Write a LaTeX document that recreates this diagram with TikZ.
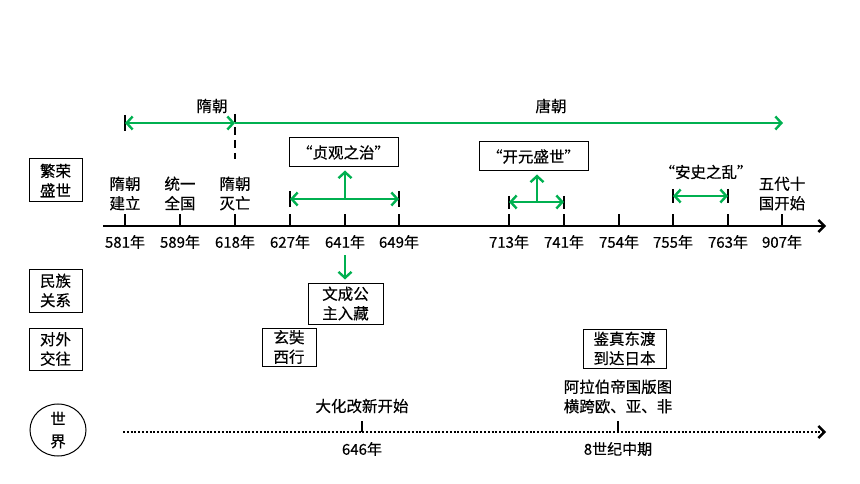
\documentclass[tikz,border=0pt]{standalone}
\usepackage{fontspec}
\setmainfont{Noto Sans CJK SC}[FakeBold=0.4]
\usetikzlibrary{arrows.meta,shapes.geometric}
\definecolor{grn}{HTML}{00B050}
\begin{document}
\begin{tikzpicture}[x=1pt,y=-1pt,
  font=\fontsize{15.5}{19.5}\selectfont,
  lbl/.style={align=center, inner sep=0pt},
  yr/.style={inner sep=0pt, font=\fontsize{15}{17}\selectfont},
  box/.style={draw, line width=1pt, align=center, inner sep=0pt},
  axisline/.style={line width=2.4pt, -{Straight Barb[length=6pt,width=12pt,line width=2.4pt]}},
  tickline/.style={line width=2.4pt},
  grnarr/.style={grn, line width=2.4pt, arrows={-Straight Barb[length=6pt,width=13pt]}},
  grnboth/.style={grn, line width=2.4pt, arrows={Straight Barb[length=6pt,width=13pt]-Straight Barb[length=6pt,width=13pt]}},
  barline/.style={line width=2.4pt},
  dotline/.style={line width=2.6pt, dash pattern=on 2pt off 1.8pt, -{Straight Barb[length=6pt,width=12pt,line width=2.4pt,sep=0pt]}}
]
\useasboundingbox (0,0) rectangle (860,484);

% ---- main axis
\coordinate (ax0) at (103,226);
\coordinate (ax1) at (826,226);
\draw[axisline] (ax0) -- (ax1);
\foreach \yy/\xx in {581/125,589/180,618/235,627/290,641/345,649/399,713/509,741/564,754/619,755/673,763/728,907/782}{
  \coordinate (t\yy) at (\xx,226);
  \draw[tickline] (t\yy) -- ++(0,-12);
  \node[yr] (y\yy) at (\xx,242) {\yy 年};
}

% ---- event labels above axis
\node[lbl] (e581) at (125,193.5) {隋朝\\建立};
\node[lbl] (e589) at (180,193.5) {统一\\全国};
\node[lbl] (e618) at (235,193.5) {隋朝\\灭亡};
\node[lbl] (e907) at (782,193.5) {五代十\\国开始};

% ---- dynasties
\node[lbl] (sui) at (212,106) {隋朝};
\node[lbl] (tang) at (551,106) {唐朝};
\coordinate (s0) at (125,123);
\coordinate (s1) at (235,123);
\coordinate (s2) at (783,123);
\draw[barline] (125,115) -- (125,131);
\draw[line width=2.4pt, dash pattern=on 8pt off 5pt] (235,114) -- (235,159);
\draw[grnboth] (s0) -- (s1);
\draw[grnarr] (s1) -- (s2);

% ---- 贞观之治
\node[box, minimum width=109pt, minimum height=29pt] (zg) at (343.5,152.5) {“贞观之治”};
\coordinate (zg0) at (290,199);
\coordinate (zg1) at (399,199);
\coordinate (zgm) at (345,199);
\draw[barline] (290,191) -- (290,207);
\draw[barline] (399,191) -- (399,207);
\draw[grnboth] (zg0) -- (zg1);
\draw[grnarr, shorten >=3pt] (zgm) -- (zgm |- zg.south);

% ---- 开元盛世
\node[box, minimum width=109pt, minimum height=29pt] (ky) at (533.5,156.5) {“开元盛世”};
\coordinate (ky0) at (509,202);
\coordinate (ky1) at (564,202);
\coordinate (kym) at (537,202);
\draw[barline] (509,196) -- (509,209);
\draw[barline] (564,196) -- (564,209);
\draw[grnboth] (ky0) -- (ky1);
\draw[grnarr, shorten >=3pt] (kym) -- (kym |- ky.south);

% ---- 安史之乱
\node[lbl] (as) at (706,172) {“安史之乱”};
\coordinate (as0) at (673,196);
\coordinate (as1) at (728,196);
\draw[barline] (673,189) -- (673,203);
\draw[barline] (728,189) -- (728,203);
\draw[grnboth] (as0) -- (as1);

% ---- category boxes
\node[box, minimum width=53pt, minimum height=43pt] (c1) at (55.5,180.5) {繁荣\\盛世};
\node[box, minimum width=53pt, minimum height=43pt] (c2) at (55.5,290.5) {民族\\关系};
\node[box, minimum width=53pt, minimum height=42pt] (c3) at (55.5,349) {对外\\交往};
\node[draw, line width=1pt, ellipse, minimum width=56pt, minimum height=48pt, inner sep=0pt, align=center] (c4) at (58,430) {世\\[3pt]界};

% ---- 民族关系 / 对外交往
\node[box, minimum width=75pt, minimum height=41pt] (wc) at (345.5,303.5) {文成公\\主入藏};
\coordinate (wcs) at (345,255);
\draw[grnarr, shorten >=3pt] (wcs) -- (wcs |- wc.north);
\node[box, minimum width=54pt, minimum height=38pt] (xz) at (289,347) {玄奘\\西行};
\node[box, minimum width=83pt, minimum height=39pt] (jz) at (624.5,348.5) {鉴真东渡\\到达日本};

% ---- world axis
\coordinate (w0) at (123,432);
\coordinate (w1) at (826,432);
\draw[dotline] (w0) -- (w1);
\coordinate (w646) at (362,432);
\coordinate (w8c) at (618,432);
\draw[tickline] (w646) -- ++(0,-11);
\draw[tickline] (w8c) -- ++(0,-11);
\node[lbl] (dh) at (362,406) {大化改新开始};
\node[yr] (y646) at (362,449) {646年};
\node[lbl] (alb) at (618,396.5) {阿拉伯帝国版图\\横跨欧、亚、非};
\node[yr] (y8c) at (618,449) {8世纪中期};
\end{tikzpicture}
\end{document}
